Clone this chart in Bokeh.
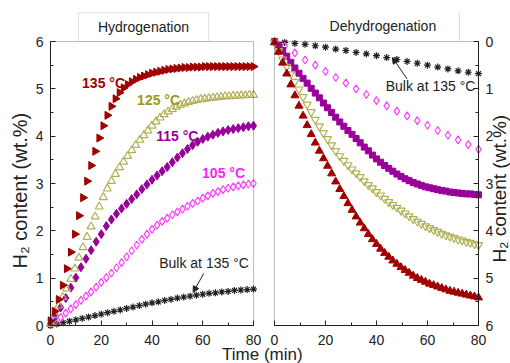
import math
from bokeh.plotting import figure
from bokeh.models import (Range1d, LinearAxis, SingleIntervalTicker, BoxAnnotation,
                          Label, Arrow, NormalHead)
from bokeh.embed import file_html
from bokeh.resources import INLINE

# ---------------- data (time in min, H2 content in wt.%) ----------------
T16 = [0.0, 1.6, 3.2, 4.8, 6.4, 8.0, 9.6, 11.2, 12.8, 14.4, 16.0, 17.6, 19.2, 20.8,
       22.4, 24.0, 25.6, 27.2, 28.8, 30.4, 32.0, 33.6, 35.2, 36.8, 38.4, 40.0, 41.6,
       43.2, 44.8, 46.4, 48.0, 49.6, 51.2, 52.8, 54.4, 56.0, 57.6, 59.2, 60.8, 62.4,
       64.0, 65.6, 67.2, 68.8, 70.4, 72.0, 73.6, 75.2, 76.8, 78.4, 80.0]
T2 = [0, 2, 4, 6, 8, 10, 12, 14, 16, 18, 20, 22, 24, 26, 28, 30, 32, 34, 36, 38, 40,
      42, 44, 46, 48, 50, 52, 54, 56, 58, 60, 62, 64, 66, 68, 70, 72, 74, 76, 78, 80]
T25 = [0, 2.5, 5, 7.5, 10, 12.5, 15, 17.5, 20, 22.5, 25, 27.5, 30, 32.5, 35, 37.5, 40,
       42.5, 45, 47.5, 50, 52.5, 55, 57.5, 60, 62.5, 65, 67.5, 70, 72.5, 75, 77.5, 80]
T4 = [0, 4, 8, 12, 16, 20, 24, 28, 32, 36, 40, 44, 48, 52, 56, 60, 64, 68, 72, 76, 80]

# Hydrogenation
h135 = [0.1, 0.3, 0.55, 0.85, 1.2, 1.55, 1.93, 2.32, 2.7, 3.05, 3.38, 3.68, 3.96, 4.22,
        4.44, 4.63, 4.79, 4.92, 5.02, 5.09, 5.15, 5.2, 5.24, 5.27, 5.3, 5.33, 5.35,
        5.37, 5.39, 5.41, 5.42, 5.43, 5.44, 5.45, 5.45, 5.46, 5.46, 5.46, 5.47, 5.47,
        5.47, 5.47, 5.47, 5.47, 5.47, 5.47, 5.47, 5.47, 5.47, 5.47, 5.47]
h125 = [0.03, 0.22, 0.42, 0.6, 0.78, 0.98, 1.2, 1.43, 1.65, 1.87, 2.09, 2.3, 2.51, 2.71,
        2.89, 3.05, 3.2, 3.34, 3.46, 3.58, 3.7, 3.81, 3.92, 4.02, 4.12, 4.22, 4.31,
        4.39, 4.46, 4.52, 4.57, 4.62, 4.66, 4.69, 4.72, 4.74, 4.76, 4.78, 4.79, 4.8,
        4.81, 4.82, 4.83, 4.84, 4.84, 4.85, 4.85, 4.86, 4.86, 4.87, 4.87]
h115 = [0.03, 0.2, 0.38, 0.58, 0.8, 1.01, 1.23, 1.41, 1.59, 1.77, 1.93, 2.1, 2.24, 2.36,
        2.47, 2.57, 2.67, 2.77, 2.88, 2.98, 3.08, 3.17, 3.26, 3.35, 3.45, 3.55, 3.64,
        3.73, 3.81, 3.88, 3.94, 3.99, 4.03, 4.07, 4.1, 4.13, 4.15, 4.17, 4.19, 4.21, 4.22]
h105 = [0.02, 0.09, 0.17, 0.26, 0.35, 0.44, 0.53, 0.62, 0.71, 0.81, 0.91, 1.01, 1.11,
        1.22, 1.33, 1.45, 1.58, 1.7, 1.82, 1.93, 2.03, 2.12, 2.2, 2.27, 2.34, 2.4, 2.46,
        2.52, 2.58, 2.63, 2.69, 2.74, 2.79, 2.83, 2.87, 2.9, 2.93, 2.95, 2.97, 2.99, 3.0]
h_bulk = [0.0, 0.03, 0.06, 0.09, 0.12, 0.15, 0.18, 0.21, 0.24, 0.27, 0.3, 0.33, 0.36,
          0.39, 0.42, 0.45, 0.48, 0.5, 0.53, 0.55, 0.58, 0.6, 0.62, 0.64, 0.66, 0.68,
          0.69, 0.71, 0.72, 0.74, 0.75, 0.76, 0.77]

# Dehydrogenation (amount released, axis reversed)
d135 = [0.02, 0.22, 0.45, 0.68, 0.91, 1.14, 1.36, 1.57, 1.77, 1.96, 2.14, 2.31, 2.47,
        2.63, 2.79, 2.96, 3.12, 3.27, 3.42, 3.56, 3.7, 3.83, 3.95, 4.07, 4.18, 4.28,
        4.38, 4.47, 4.55, 4.63, 4.7, 4.77, 4.83, 4.89, 4.95, 5.0, 5.04, 5.08, 5.12,
        5.15, 5.18, 5.21, 5.24, 5.27, 5.29, 5.31, 5.33, 5.35, 5.37, 5.39, 5.41]
d125 = [0.02, 0.2, 0.38, 0.53, 0.69, 0.85, 1.01, 1.17, 1.33, 1.49, 1.65, 1.79, 1.93,
        2.06, 2.19, 2.31, 2.42, 2.52, 2.61, 2.7, 2.78, 2.86, 2.95, 3.03, 3.1, 3.18, 3.25,
        3.32, 3.39, 3.45, 3.51, 3.57, 3.63, 3.69, 3.75, 3.8, 3.85, 3.9, 3.94, 3.98, 4.02,
        4.06, 4.09, 4.12, 4.15, 4.18, 4.2, 4.23, 4.25, 4.28, 4.3]
d115 = [0.0, 0.08, 0.19, 0.31, 0.44, 0.56, 0.67, 0.78, 0.88, 0.99, 1.09, 1.19, 1.3,
        1.4, 1.5, 1.6, 1.7, 1.79, 1.88, 1.96, 2.05, 2.14, 2.23, 2.31, 2.4, 2.48, 2.55,
        2.62, 2.68, 2.74, 2.8, 2.85, 2.9, 2.94, 2.98, 3.01, 3.04, 3.07, 3.09, 3.11, 3.13,
        3.15, 3.16, 3.18, 3.19, 3.2, 3.21, 3.22, 3.22, 3.23, 3.24]
d105 = [0.0, 0.1, 0.24, 0.39, 0.5, 0.63, 0.76, 0.88, 1.0, 1.12, 1.25, 1.36, 1.47, 1.57,
        1.67, 1.77, 1.88, 1.98, 2.08, 2.18, 2.28]
d_bulk = [0.0, 0.02, 0.04, 0.06, 0.09, 0.12, 0.16, 0.19, 0.23, 0.26, 0.3, 0.34, 0.38,
          0.42, 0.46, 0.5, 0.54, 0.58, 0.62, 0.65, 0.68]

x_tick_interval = 20
y_tick_interval = 1
temp_labels = ["135 °C", "125 °C", "115 °C", "105 °C"]
bulk_label = "Bulk at 135 °C"
y_title = "H\u2082 content (wt.%)"
x_title = "Time (min)"
panel_titles = ["Hydrogenation", "Dehydrogenation"]

# ---------------- styles / layout ----------------
RED = "#a00000"
OLIVE = "#b0b055"
OLIVE_TXT = "#999922"
PURPLE = "#990099"
MAGENTA = "#ff44ff"
MAGENTA_TXT = "#ff22ff"
BLK = "#222222"
FONT = "Liberation Sans"

W, H = 510, 363
L0, L1 = 50.0, 253.0     # left panel pixel span
R0, R1 = 274.0, 478.0    # right panel pixel span
TOP, BOT = 41.0, 325.0   # panel top / bottom pixel
sl = (L1 - L0) / 80.0
sr = (R1 - R0) / 80.0
sy = (BOT - TOP) / 6.0

p = figure(width=W, height=H, output_backend="svg", toolbar_location=None,
           x_range=Range1d(-L0 / sl, (W - L0) / sl),
           y_range=Range1d(-(H - BOT) / sy, BOT / sy),
           x_axis_type=None, y_axis_type=None,
           min_border=0, min_border_left=0, min_border_right=0,
           min_border_top=0, min_border_bottom=0)
p.extra_x_ranges = {"r": Range1d(-R0 / sr, (W - R0) / sr)}
p.extra_y_ranges = {"r": Range1d((H - TOP) / sy, -TOP / sy)}
p.outline_line_color = None
p.background_fill_color = "white"
p.border_fill_color = "white"


def style_axis(ax, standoff):
    ax.axis_line_color = BLK
    ax.major_tick_in = 5
    ax.major_tick_out = 0
    ax.minor_tick_in = 3
    ax.minor_tick_out = 0
    ax.major_tick_line_color = BLK
    ax.minor_tick_line_color = BLK
    ax.major_label_text_font = FONT
    ax.major_label_text_font_size = "14px"
    ax.major_label_text_color = BLK
    ax.major_label_standoff = standoff


xa1 = LinearAxis(ticker=SingleIntervalTicker(interval=x_tick_interval, num_minor_ticks=2),
                 bounds=(0, 80), fixed_location=0)
xa2 = LinearAxis(x_range_name="r",
                 ticker=SingleIntervalTicker(interval=x_tick_interval, num_minor_ticks=2),
                 bounds=(0, 80), fixed_location=0)
for a in (xa1, xa2):
    style_axis(a, 9)
    p.add_layout(a, "below")

ya1 = LinearAxis(ticker=SingleIntervalTicker(interval=y_tick_interval, num_minor_ticks=2),
                 bounds=(0, 6), fixed_location=0)
style_axis(ya1, 7)
p.add_layout(ya1, "left")

ya2 = LinearAxis(x_range_name="r", y_range_name="r",
                 ticker=SingleIntervalTicker(interval=y_tick_interval, num_minor_ticks=2),
                 bounds=(0, 6), fixed_location=80)
style_axis(ya2, 7)
p.add_layout(ya2, "right")

# panel boxes
p.add_layout(BoxAnnotation(left=0, right=80, bottom=0, top=6, fill_color=None,
                           line_color=BLK, line_width=1))
p.add_layout(BoxAnnotation(left=0, right=80, bottom=0, top=6, x_range_name="r",
                           y_range_name="r", fill_color=None, line_color=BLK, line_width=1))

# ---------------- hydrogenation ----------------
p.scatter(T25, h_bulk, marker="asterisk", size=7, line_color=BLK, line_width=1.2)
p.scatter(T2, h105, marker="diamond", size=8, fill_color=None, line_color=MAGENTA, line_width=1.2)
p.scatter(T2, h115, marker="diamond", size=9, fill_color=PURPLE, line_color=PURPLE)
p.scatter(T16, h125, marker="triangle", size=8, fill_color=None, line_color=OLIVE, line_width=1.2)
p.scatter(T16, h135, marker="triangle", angle=-math.pi / 2, size=8, fill_color=RED, line_color=RED)

# ---------------- dehydrogenation ----------------
R = dict(x_range_name="r", y_range_name="r")
p.scatter(T4, d_bulk, marker="asterisk", size=7, line_color=BLK, line_width=1.2, **R)
p.scatter(T4, d105, marker="diamond", size=8, fill_color=None, line_color=MAGENTA, line_width=1.2, **R)
p.scatter(T16, d115, marker="square", size=6, fill_color=PURPLE, line_color=PURPLE, **R)
p.scatter(T16, d125, marker="inverted_triangle", size=8, fill_color=None, line_color=OLIVE, line_width=1.2, **R)
p.scatter(T16, d135, marker="triangle", size=8, fill_color=RED, line_color=RED, **R)


# ---------------- texts ----------------
def lab(x, y, text, color=BLK, size="14px", style="normal", **kw):
    p.add_layout(Label(x=x, y=y, text=text, text_color=color, text_font=FONT,
                       text_font_size=size, text_font_style=style,
                       text_align=kw.pop("align", "center"),
                       text_baseline=kw.pop("baseline", "middle"), **kw))


lab(20.9, 5.12, temp_labels[0], RED, style="bold")
lab(42.6, 4.76, temp_labels[1], OLIVE_TXT, style="bold")
lab(50.0, 4.01, temp_labels[2], PURPLE, style="bold")
lab(68.2, 3.23, temp_labels[3], MAGENTA_TXT, style="bold")

lab(60.5, 1.33, bulk_label)
p.add_layout(Arrow(x_start=60.4, y_start=1.1, x_end=56.2, y_end=0.7,
                   line_color=BLK, line_width=1,
                   end=NormalHead(size=6, fill_color=BLK, line_color=BLK)))
lab(61.2, 0.95, bulk_label, **R)
p.add_layout(Arrow(x_start=52.0, y_start=0.79, x_end=46.2, y_end=0.34,
                   line_color=BLK, line_width=1,
                   end=NormalHead(size=6, fill_color=BLK, line_color=BLK), **R))

# panel tabs
p.add_layout(BoxAnnotation(left=11.0, right=62.3, bottom=6.0, top=6.61,
                           fill_color="white", line_color="#999999", line_width=1))
lab(36.65, 6.31, panel_titles[0])
lab(42.5, -0.33, panel_titles[1], **R)
p.add_layout(BoxAnnotation(left=72.5, right=72.5, top=-0.61, bottom=0.0,
                           fill_color=None, line_color="#bbbbbb", line_width=1, **R))

# axis titles
lab(83.5, -0.62, x_title, size="17px")
lab(-12.0, 2.85, y_title, size="20px", angle=math.pi / 2)
lab(88.4, 3.11, y_title, size="19px", angle=math.pi / 2, **R)

open("out.html", "w").write(file_html(p, INLINE))
